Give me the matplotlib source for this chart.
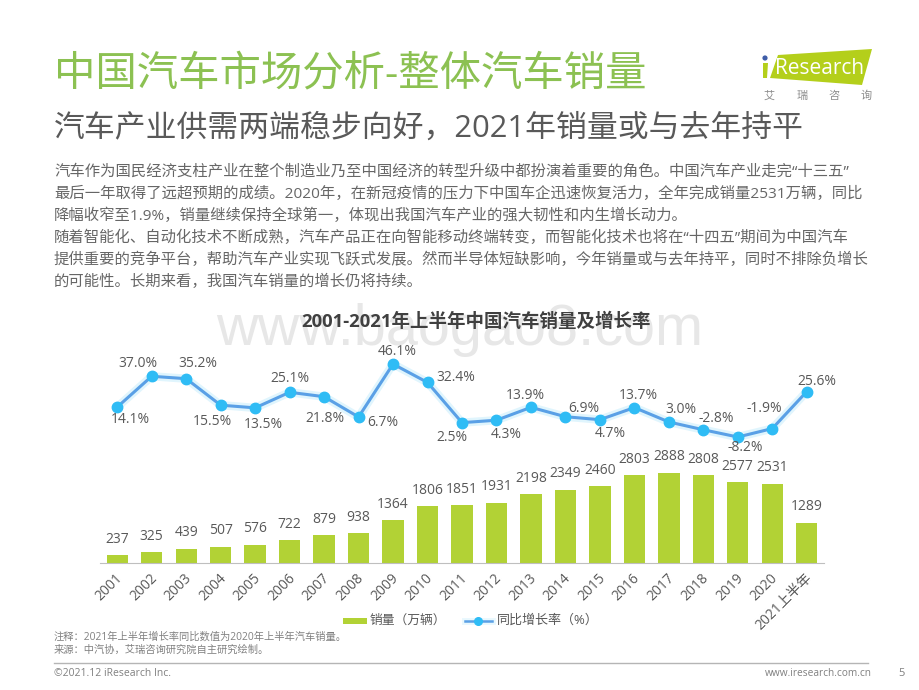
import matplotlib
matplotlib.use("Agg")
import matplotlib.pyplot as plt
from matplotlib.patches import Polygon, Circle
from matplotlib.transforms import ScaledTranslation

plt.rcParams['font.family'] = ['Open Sans', 'Noto Sans CJK SC', 'DejaVu Sans']

W, H = 920, 690

# Chart data
years = ["2001", "2002", "2003", "2004", "2005", "2006", "2007", "2008", "2009", "2010", "2011",
         "2012", "2013", "2014", "2015", "2016", "2017", "2018", "2019", "2020", "2021上半年"]
sales = [237, 325, 439, 507, 576, 722, 879, 938, 1364, 1806, 1851,
         1931, 2198, 2349, 2460, 2803, 2888, 2808, 2577, 2531, 1289]
growth = [14.1, 37.0, 35.2, 15.5, 13.5, 25.1, 21.8, 6.7, 46.1, 32.4, 2.5,
          4.3, 13.9, 6.9, 4.7, 13.7, 3.0, -2.8, -8.2, -1.9, 25.6]

# Label offsets of the growth line, in pixels from each point
growth_offsets = [(13, -12), (-14, 13), (12, 15), (-8, -16), (8, -17), (0, 14), (1, -22),
                  (24, -6), (4, 13), (28, 5), (-10, -15), (10, -14), (-6, 12), (18, 8),
                  (10, -14), (4, 12), (12, 12), (13, 11), (7, -10), (-8, 20), (10, 10)]

body_lines = [
    "汽车作为国民经济支柱产业在整个制造业乃至中国经济的转型升级中都扮演着重要的角色。中国汽车产业走完“十三五”",
    "最后一年取得了远超预期的成绩。2020年，在新冠疫情的压力下中国车企迅速恢复活力，全年完成销量2531万辆，同比",
    "降幅收窄至1.9%，销量继续保持全球第一，体现出我国汽车产业的强大韧性和内生增长动力。",
    "随着智能化、自动化技术不断成熟，汽车产品正在向智能移动终端转变，而智能化技术也将在“十四五”期间为中国汽车",
    "提供重要的竞争平台，帮助汽车产业实现飞跃式发展。然而半导体短缺影响，今年销量或与去年持平，同时不排除负增长",
    "的可能性。长期来看，我国汽车销量的增长仍将持续。",
]

GREEN = "#B2D235"
TEXT = "#595959"


# Helpers for placing things by pixel position on the page
def px_text(x, y, s, size, color=TEXT, ha="left", va="center", **kw):
    return fig.text(x / W, 1 - y / H, s, fontsize=size, color=color, ha=ha, va=va, **kw)


def px_axes(left, top, right, bottom):
    return fig.add_axes([left / W, 1 - bottom / H, (right - left) / W, (bottom - top) / H])


fig = plt.figure(figsize=(W / 100, H / 100), dpi=100, facecolor="white")

# Page overlay used for the logo, rules and watermark
page = fig.add_axes([0, 0, 1, 1])
page.set_xlim(0, W)
page.set_ylim(H, 0)
page.axis("off")

# Headers
px_text(54, 75, "中国汽车市场分析-整体汽车销量", 29.8, color="#8CC152")
px_text(54, 129, "汽车产业供需两端稳步向好，2021年销量或与去年持平", 22.2, color="#595959")
for i, line in enumerate(body_lines):
    px_text(54, 172 + i * 22, line, 11.05, color="#666666")

# Logo
page.add_patch(Polygon([(778, 55), (872, 49), (862, 85), (770, 78)], closed=True, fc="#B4CF1B", ec="none"))
page.add_patch(Polygon([(763, 63), (768, 63), (767, 78), (763, 78)], closed=True, fc="#B4CF1B", ec="none"))
page.add_patch(Circle((765, 58), 2.6, fc="#3F5DA8", ec="none"))
px_text(775, 68, "Research", 15, color="white")
for x, ch in zip([769, 802, 834, 866], "艾瑞咨询"):
    px_text(x, 96, ch, 8, color="#8c8c8c", ha="center")

# Watermark
px_text(460, 345, "www.baogao8.com", 41.5, color="#E7E7E7", ha="center", va="baseline", family="Liberation Sans")
px_text(476, 322, "2001-2021年上半年中国汽车销量及增长率", 13.3, color="#404040", ha="center", fontweight="bold")

# Bars
ax = px_axes(100, 440, 824, 562.6)
ax.patch.set_alpha(0)
x = list(range(len(years)))
ax.bar(x, sales, width=0.62, color=GREEN, label="销量（万辆）")
ax.set_xlim(-0.5, len(years) - 0.5)
ax.set_ylim(0, 3942)
for xi, v in zip(x, sales):
    ax.annotate(str(v), (xi, v), xytext=(0, 16), textcoords="offset pixels",
                ha="center", va="center", fontsize=10, color=TEXT)
for side in ["top", "left", "right"]:
    ax.spines[side].set_visible(False)
ax.spines["bottom"].set_color("#BFBFBF")
ax.set_yticks([])
ax.set_xticks(x)
ax.set_xticklabels(years, rotation=45, ha="right", va="top", rotation_mode="anchor", fontsize=10, color=TEXT)
ax.tick_params(axis="x", length=0, pad=6)
for lab in ax.get_xticklabels():
    lab.set_transform(lab.get_transform() + ScaledTranslation(-2 / 100, 0, fig.dpi_scale_trans))

# Growth line
ax2 = px_axes(100, 350, 824, 445)
ax2.patch.set_alpha(0)
ax2.plot(x, growth, color="#2FBCF5", lw=6, alpha=0.15, solid_capstyle="round")
line, = ax2.plot(x, growth, color="#5AA0E6", lw=2.2, marker="o", ms=7.5, mfc="#2FBCF5", mec="#2FBCF5",
                 label="同比增长率（%）")
ax2.set_xlim(-0.5, len(years) - 0.5)
ax2.set_ylim((426 - 445) / 1.344, (426 - 350) / 1.344)
ax2.axis("off")
for xi, v, off in zip(x, growth, growth_offsets):
    ax2.annotate(f"{v:.1f}%", (xi, v), xytext=off, textcoords="offset pixels",
                 ha="center", va="center", fontsize=10, color=TEXT)

# Legend, laid out by hand to match the page
page.add_patch(plt.Rectangle((343, 617.5), 24, 6, fc=GREEN, ec="none"))
px_text(370, 620.5, "销量（万辆）", 9.2)
page.plot([465, 492], [620.5, 620.5], color="#2FBCF5", lw=5, alpha=0.1)
page.plot([465, 492], [620.5, 620.5], color="#5AA0E6", lw=1.8)
page.plot([478.5], [620.5], marker="o", ms=5.5, color="#2FBCF5")
px_text(497, 620.5, "同比增长率（%）", 9.4)

# Footer
px_text(54, 637, "注释：2021年上半年增长率同比数值为2020年上半年汽车销量。", 7.4, color="#808080")
px_text(54, 650, "来源：中汽协，艾瑞咨询研究院自主研究绘制。", 7.4, color="#808080")
page.plot([54, 868], [663, 663], color="#B5B5B5", lw=1)
px_text(54, 674, "©2021.12 iResearch Inc.", 7.5, color="#808080")
px_text(872, 674, "www.iresearch.com.cn", 7.3, color="#808080", ha="right")
px_text(902, 674, "5", 8, color="#808080", ha="center")

fig.savefig("out.png", dpi=100)
